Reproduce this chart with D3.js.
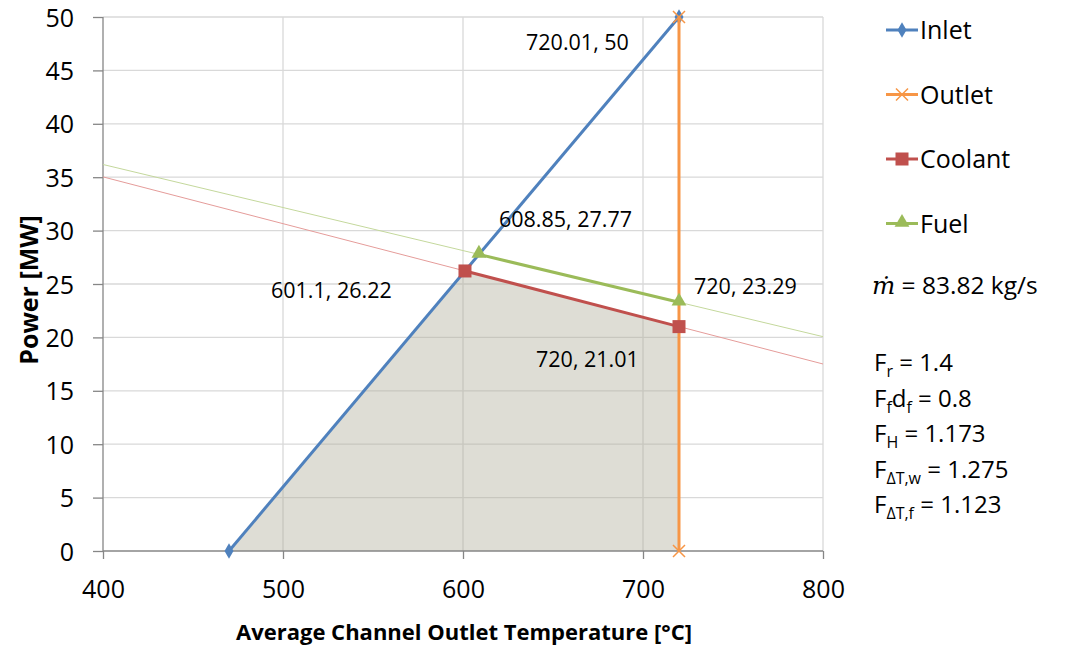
<!DOCTYPE html>
<html lang="en">
<head>
<meta charset="utf-8"/>
<title>Power vs outlet temperature</title>
<script src="https://cdn.jsdelivr.net/npm/d3@7"></script>
<style>
  body { margin: 0; background: #fff; }
  text { font-family: "Open Sans", "Noto Sans", sans-serif; fill: #000; }
</style>
</head>
<body>
<svg id="chart" width="1071" height="645"></svg>
<script>
// ---- data ----
const inlet   = [[470, 0], [720.01, 50]];
const outlet  = [[720, 0], [720, 50]];
const coolant = [[601.1, 26.22], [720, 21.01]];
const fuel    = [[608.85, 27.77], [720, 23.29]];
const coolantTrend = [[400, 35.03], [800, 17.51]];
const fuelTrend    = [[400, 36.19], [800, 20.07]];
const region = [[470, 0], [601.1, 26.22], [720, 21.01], [720, 0]];

const xTicks = [400, 500, 600, 700, 800];
const yTicks = [0, 5, 10, 15, 20, 25, 30, 35, 40, 45, 50];

const labels = [
  { p: [720.01, 50], text: "720.01, 50", dx: -153, dy: 33 },
  { p: [608.85, 27.77], text: "608.85, 27.77", dx: 20, dy: -27 },
  { p: [601.1, 26.22], text: "601.1, 26.22", dx: -194, dy: 27 },
  { p: [720, 23.29], text: "720, 23.29", dx: 15, dy: -8 },
  { p: [720, 21.01], text: "720, 21.01", dx: -143, dy: 40 }
];

const legendItems = ["Inlet", "Outlet", "Coolant", "Fuel"];
const factors = [
  { base: "F", sub: "r", tail: " = 1.4" },
  { base: "F", sub: "f", mid: "d", sub2: "f", tail: " = 0.8" },
  { base: "F", sub: "H", tail: " = 1.173" },
  { base: "F", sub: "\u0394T,w", tail: " = 1.275" },
  { base: "F", sub: "\u0394T,f", tail: " = 1.123" }
];

const colors = { Inlet: "#4f81bd", Outlet: "#f79646", Coolant: "#c0504d", Fuel: "#9bbb59" };

// ---- layout ----
const svg = d3.select("#chart");
const m = { left: 103, top: 17, width: 720, height: 534 };

const x = d3.scaleLinear().domain([400, 800]).range([m.left, m.left + m.width]);
const y = d3.scaleLinear().domain([0, 50]).range([m.top + m.height, m.top]);
const line = d3.line().x(d => x(d[0])).y(d => y(d[1]));

// grid
svg.append("g").selectAll("line").data(yTicks.filter(d => d > 0)).enter().append("line")
  .attr("x1", x(400)).attr("x2", x(800))
  .attr("y1", d => y(d)).attr("y2", d => y(d))
  .attr("stroke", "#d9d9d9").attr("stroke-width", 1.3);
svg.append("g").selectAll("line").data(xTicks.filter(d => d > 400)).enter().append("line")
  .attr("x1", d => x(d)).attr("x2", d => x(d))
  .attr("y1", y(0)).attr("y2", y(50))
  .attr("stroke", "#d9d9d9").attr("stroke-width", 1.3);

// shaded operating region
svg.append("path").datum(region)
  .attr("d", d3.line().x(d => x(d[0])).y(d => y(d[1])).curve(d3.curveLinearClosed))
  .attr("fill", "#b0ad9c").attr("fill-opacity", 0.42);

// axes
const xAxis = svg.append("g").attr("transform", `translate(0,${y(0)})`)
  .call(d3.axisBottom(x).tickValues(xTicks).tickSize(8).tickPadding(16));
const yAxis = svg.append("g").attr("transform", `translate(${x(400)},0)`)
  .call(d3.axisLeft(y).tickValues(yTicks).tickSize(10).tickPadding(19));
[xAxis, yAxis].forEach(a => {
  a.select(".domain").attr("stroke", "#868686").attr("stroke-width", 1.3);
  a.selectAll(".tick line").attr("stroke", "#868686").attr("stroke-width", 1.3);
  a.selectAll(".tick text").attr("font-size", 25).attr("font-family", "Open Sans").attr("fill", "#000");
});
xAxis.select(".domain").attr("d", `M${x(400)},0H${x(800)}`);
yAxis.select(".domain").attr("d", `M0,${y(0)}V${y(50)}`);
xAxis.selectAll(".tick text").attr("dy", "0.9em");
yAxis.selectAll(".tick text").attr("dy", "0.36em");

// trend lines
svg.append("path").datum(coolantTrend).attr("d", line)
  .attr("stroke", "#e59c9a").attr("stroke-width", 1).attr("fill", "none");
svg.append("path").datum(fuelTrend).attr("d", line)
  .attr("stroke", "#c4d89c").attr("stroke-width", 1).attr("fill", "none");

// series
function drawMarker(g, name, px, py) {
  const c = colors[name];
  if (name === "Inlet") {
    g.append("path").attr("d", d3.symbol(d3.symbolDiamond, 70)())
      .attr("transform", `translate(${px},${py})`).attr("fill", c);
  } else if (name === "Outlet") {
    g.append("path").attr("d", "M-6,-6L6,6M-6,6L6,-6")
      .attr("transform", `translate(${px},${py})`).attr("stroke", c).attr("stroke-width", 1.5).attr("fill", "none");
  } else if (name === "Coolant") {
    g.append("rect").attr("x", px - 6.5).attr("y", py - 6.5).attr("width", 13).attr("height", 13).attr("fill", c);
  } else {
    g.append("path").attr("d", d3.symbol(d3.symbolTriangle, 95)())
      .attr("transform", `translate(${px},${py - 1})`).attr("fill", c);
  }
}

const series = [["Inlet", inlet], ["Outlet", outlet], ["Coolant", coolant], ["Fuel", fuel]];
series.forEach(([name, pts]) => {
  const g = svg.append("g");
  g.append("path").datum(pts).attr("d", line)
    .attr("stroke", colors[name]).attr("stroke-width", 3).attr("fill", "none");
  pts.forEach(p => drawMarker(g, name, x(p[0]), y(p[1])));
});

// data labels
svg.append("g").selectAll("text").data(labels).enter().append("text")
  .attr("x", d => x(d.p[0]) + d.dx).attr("y", d => y(d.p[1]) + d.dy)
  .attr("font-size", 21.5).text(d => d.text);

// axis titles
svg.append("text").attr("x", (x(400) + x(800)) / 2 + 1).attr("y", 640)
  .attr("text-anchor", "middle").attr("font-size", 22).attr("font-weight", "bold")
  .text("Average Channel Outlet Temperature [\u00b0C]");
svg.append("text").attr("transform", `translate(38,${(y(0) + y(50)) / 2 + 6}) rotate(-90)`)
  .attr("text-anchor", "middle").attr("font-size", 25).attr("font-weight", "bold")
  .text("Power [MW]");

// legend
const lg = svg.append("g");
legendItems.forEach((name, i) => {
  const ly = 30 + i * 64.5;
  lg.append("line").attr("x1", 886).attr("x2", 918).attr("y1", ly).attr("y2", ly)
    .attr("stroke", colors[name]).attr("stroke-width", 3);
  drawMarker(lg, name, 902, ly);
  lg.append("text").attr("x", 920).attr("y", ly).attr("dy", "0.36em")
    .attr("font-size", 25).text(name);
});

// mass flow
const mt = svg.append("text").attr("x", 872).attr("y", 294).attr("font-size", 24.5);
mt.append("tspan").attr("font-family", "DejaVu Serif").attr("font-style", "italic").text("\u1e41");
mt.append("tspan").text(" = 83.82 kg/s");

// factors
factors.forEach((f, i) => {
  const t = svg.append("text").attr("x", 874).attr("y", 371 + i * 35.5).attr("font-size", 24);
  t.append("tspan").text(f.base);
  t.append("tspan").attr("font-size", 16).attr("dy", 6).text(f.sub);
  if (f.mid) {
    t.append("tspan").attr("dy", -6).text(f.mid);
    t.append("tspan").attr("font-size", 16).attr("dy", 6).text(f.sub2);
  }
  t.append("tspan").attr("dy", -6).text(f.tail);
});
</script>
</body>
</html>
